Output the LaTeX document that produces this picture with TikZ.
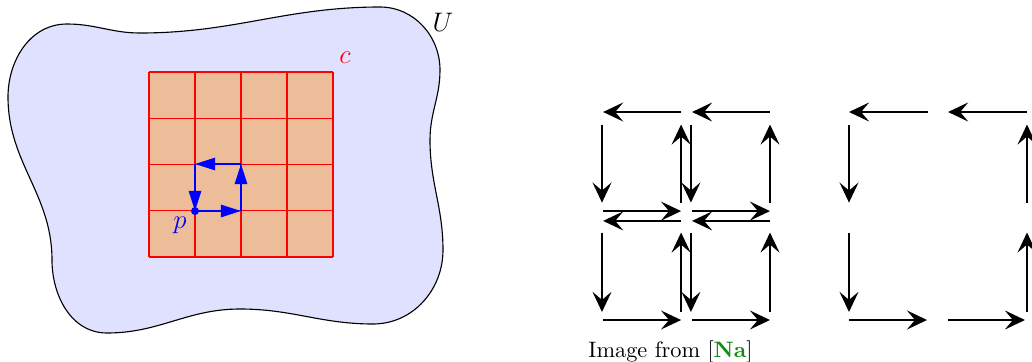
\documentclass[tikz,border=0pt]{standalone}
\usepackage{xcolor}
\usepackage{tikz}
\usetikzlibrary{arrows.meta}

\definecolor{cellfill}{RGB}{236,189,152}
\definecolor{citegreen}{RGB}{20,140,20}

\begin{document}
\begin{tikzpicture}[
  x=0.448pt, y=-0.448pt,
  region/.style={draw=black, line width=0.5pt, fill=blue!12},
  cube/.style={draw=red, line width=0.6pt},
  bdry/.style={draw=blue, line width=0.9pt, -{Triangle[length=9pt, width=5.5pt]}},
  arr/.style={draw=black, line width=0.9pt, -{Stealth[length=9pt, width=8.5pt, inset=3.6pt]}},
  lbl/.style={font=\large, inner sep=1pt}
]
\useasboundingbox (0,0) rectangle (1032,362);

% the open set U
\draw[region] (8,97) to[out=90, in=180] (67,24) to[out=0, in=180] (140,33)
  to[out=0, in=180] (380,7) to[out=0, in=90] (440,70) to[out=-90, in=90] (430,140)
  to[out=-90, in=90] (443,250) to[out=-90, in=0] (373,324) to[out=180, in=0] (240,309)
  to[out=180, in=0] (107,333) to[out=180, in=-90] (52,260) to[out=90, in=-90] (8,97)
  -- cycle;
\node[lbl] (U) at (443,22) {$U$};

% the cube c
\fill[cellfill] (149,72) rectangle (333,257);
\foreach \k in {0,...,4} {
  \draw[cube] (149+46*\k,72) -- (149+46*\k,257);
  \draw[cube] (149,72+46.25*\k) -- (333,72+46.25*\k);
}
\node[lbl, text=red] (c) at (345,58) {$c$};

% boundary of one cell at p
\coordinate (p) at (195,211);
\coordinate (q) at (241,211);
\coordinate (r) at (241,164);
\coordinate (s) at (195,164);
\draw[bdry] (p) -- (q);
\draw[bdry] (q) -- (r);
\draw[bdry] (r) -- (s);
\draw[bdry] (s) -- (p);
\fill[blue] (p) circle (1.8pt);
\node[lbl, text=blue] (plbl) at (180,225) {$p$};

% cancelling edges, from [Na]
\foreach \i/\x in {0/602,1/686,2/770}
  \foreach \j/\y in {0/112,1/216,2/320} {
    \coordinate (l\i\j) at (\x,\y);
  }
\foreach \i/\x in {0/849,1/938,2/1027}
  \foreach \j/\y in {0/112,1/216,2/320} {
    \coordinate (r\i\j) at (\x,\y);
  }

\draw[arr, shorten <=2.2pt, shorten >=0.5pt] (l10) -- (l00);
\draw[arr, shorten >=2.7pt] (l20) -- (l10);
\draw[arr, shorten <=0.5pt, shorten >=2.2pt] ([yshift=2.2pt]l01) -- ([yshift=2.2pt]l11);
\draw[arr, shorten <=2.7pt] ([yshift=2.2pt]l11) -- ([yshift=2.2pt]l21);
\draw[arr, shorten <=2.2pt, shorten >=0.5pt] ([yshift=-2.2pt]l11) -- ([yshift=-2.2pt]l01);
\draw[arr, shorten >=2.7pt] ([yshift=-2.2pt]l21) -- ([yshift=-2.2pt]l11);
\draw[arr, shorten <=0.5pt, shorten >=2.2pt] (l02) -- (l12);
\draw[arr, shorten <=2.7pt] (l12) -- (l22);

\draw[arr, shorten <=4.5pt] (r10) -- (r00);
\draw[arr, shorten >=4.5pt] (r20) -- (r10);
\draw[arr, shorten >=4.9pt] (r02) -- (r12);
\draw[arr, shorten <=4.5pt, shorten >=0.9pt] (r12) -- (r22);

\foreach \c/\dx in {l0/0pt, l1/2.2pt, r0/0pt} {
  \draw[arr, shorten <=5.6pt, shorten >=6pt] ([xshift=\dx]\c0) -- ([xshift=\dx]\c1);
  \draw[arr, shorten <=7.4pt, shorten >=3.6pt] ([xshift=\dx]\c1) -- ([xshift=\dx]\c2);
}
\foreach \c/\dx in {l1/-2.2pt, l2/0pt, r2/0pt} {
  \draw[arr, shorten <=6pt, shorten >=5.6pt] ([xshift=\dx]\c1) -- ([xshift=\dx]\c0);
  \draw[arr, shorten <=3.6pt, shorten >=7.4pt] ([xshift=\dx]\c2) -- ([xshift=\dx]\c1);
}

\node[anchor=base west, inner sep=0pt] (src) at (588,357)
  {Image from [\textcolor{citegreen}{\textbf{Na}}]};
\end{tikzpicture}
\end{document}
